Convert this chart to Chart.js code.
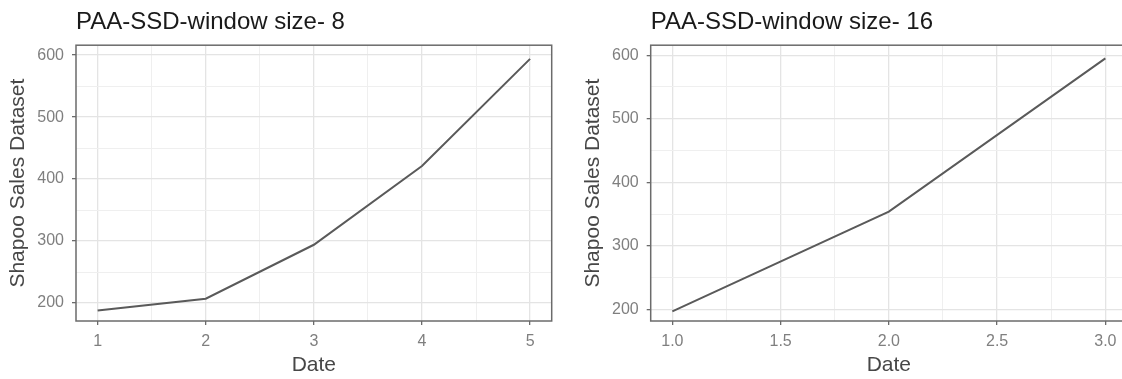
<!DOCTYPE html>
<html>
<head>
<meta charset="utf-8">
<script src="https://cdn.jsdelivr.net/npm/chart.js@4/dist/chart.umd.min.js"></script>
<style>
  html, body { margin: 0; padding: 0; background: #fff; overflow: hidden; width: 1122px; height: 379px; }
  #leftChart { position: absolute; left: 0; top: 0; }
  #rightChart { position: absolute; left: 560px; top: 0; }
</style>
</head>
<body>
<canvas id="leftChart" width="560" height="379"></canvas>
<canvas id="rightChart" width="580" height="379"></canvas>
<script>
// window size 8
const leftDates = [1, 2, 3, 4, 5];
const leftSales = [188, 207, 294, 421, 594];
const leftXTicks = [1, 1.5, 2, 2.5, 3, 3.5, 4, 4.5, 5];
const leftXLabels = ['1', '', '2', '', '3', '', '4', '', '5'];

// window size 16
const rightDates = [1, 2, 3];
const rightSales = [197, 354, 595];
const rightXTicks = [1, 1.25, 1.5, 1.75, 2, 2.25, 2.5, 2.75, 3];
const rightXLabels = ['1.0', '', '1.5', '', '2.0', '', '2.5', '', '3.0'];

const yTicks = [200, 250, 300, 350, 400, 450, 500, 550, 600];
const yLabels = ['200', '', '300', '', '400', '', '500', '', '600'];

Chart.defaults.font.family = 'Liberation Sans, Arial, sans-serif';

const borderGrey = '#6b6b6b';

// ggplot-like box round the panel
const panelBorder = {
    id: 'panelBorder',
    afterDatasetsDraw(chart) {
        const { ctx, chartArea: a } = chart;
        ctx.save();
        ctx.strokeStyle = borderGrey;
        ctx.lineWidth = 1.5;
        ctx.strokeRect(a.left, a.top, a.right - a.left, a.bottom - a.top);
        ctx.restore();
    }
};

function gridFor(labels) {
    const major = c => labels[c.index] !== '';
    return {
        color: c => major(c) ? '#e4e4e4' : '#efefef',
        lineWidth: c => major(c) ? 1.3 : 1,
        tickColor: c => major(c) ? borderGrey : 'rgba(0,0,0,0)',
        tickWidth: 1.3,
        tickLength: 4,
        drawTicks: true
    };
}

function makePanel(id, title, dates, sales, xTicks, xLabels, xMin, xMax, yMin, yMax, padLeft, padRight) {
    const canvas = document.getElementById(id);
    if (!canvas) {
        console.error('Canvas not found: ' + id);
        return;
    }
    new Chart(canvas.getContext('2d'), {
        type: 'line',
        data: {
            datasets: [{
                data: dates.map((d, i) => ({ x: d, y: sales[i] })),
                borderColor: '#5a5a5a',
                borderWidth: 2,
                pointRadius: 0,
                tension: 0,
                fill: false
            }]
        },
        options: {
            responsive: false,
            animation: false,
            layout: { padding: { top: 1.4, left: padLeft, right: padRight, bottom: 0 } },
            plugins: {
                legend: { display: false },
                tooltip: { enabled: false },
                title: {
                    display: true,
                    text: title,
                    align: 'start',
                    fullSize: false,
                    color: '#1a1a1a',
                    font: { size: 24, weight: 'normal' },
                    padding: { top: 7, bottom: 8 }
                }
            },
            scales: {
                x: {
                    type: 'linear',
                    bounds: 'data',
                    min: xMin,
                    max: xMax,
                    afterBuildTicks: s => { s.ticks = xTicks.map(v => ({ value: v })); },
                    afterFit: s => { s.height = 58; },
                    ticks: {
                        autoSkip: false,
                        maxRotation: 0,
                        padding: 7,
                        color: '#7f7f7f',
                        font: { size: 16 },
                        callback: (v, i) => xLabels[i]
                    },
                    grid: gridFor(xLabels),
                    border: { display: false },
                    title: {
                        display: true,
                        text: 'Date',
                        color: '#474747',
                        font: { size: 21 },
                        padding: { top: 0, bottom: 1 }
                    }
                },
                y: {
                    type: 'linear',
                    bounds: 'data',
                    min: yMin,
                    max: yMax,
                    afterBuildTicks: s => { s.ticks = yTicks.map(v => ({ value: v })); },
                    afterFit: s => { s.width = 76; },
                    ticks: {
                        autoSkip: false,
                        padding: 8,
                        color: '#7f7f7f',
                        font: { size: 16 },
                        callback: (v, i) => yLabels[i]
                    },
                    grid: gridFor(yLabels),
                    border: { display: false },
                    title: {
                        display: true,
                        text: 'Shapoo Sales Dataset',
                        color: '#474747',
                        font: { size: 21 },
                        padding: { top: 6, bottom: 0 }
                    }
                }
            }
        },
        plugins: [panelBorder]
    });
}

makePanel('leftChart', 'PAA-SSD-window size- 8', leftDates, leftSales,
    leftXTicks, leftXLabels, 0.8, 5.2, 171, 616, 0, 8.3);
makePanel('rightChart', 'PAA-SSD-window size- 16', rightDates, rightSales,
    rightXTicks, rightXLabels, 0.9, 3.1, 182, 615.7, 14.7, 13);
</script>
</body>
</html>
